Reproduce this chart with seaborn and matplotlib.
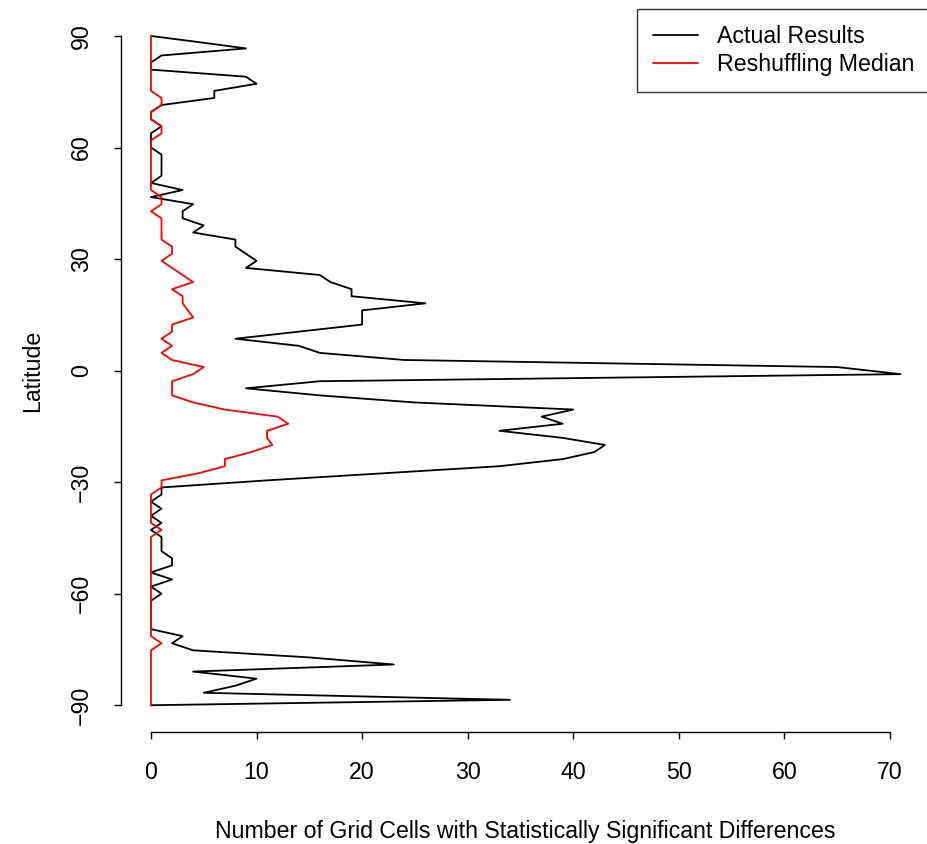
import numpy as np
import pandas as pd
import matplotlib
matplotlib.use("Agg")
import matplotlib.pyplot as plt
import seaborn as sns

sns.set_style("ticks")
plt.rcParams["font.family"] = ["Liberation Sans", "DejaVu Sans"]
plt.rcParams["text.color"] = "black"
plt.rcParams["axes.labelcolor"] = "black"

# T62 Gaussian latitudes (northern half), mirrored for the south, plus the poles
north_lats = [88.542, 86.653, 84.753, 82.851, 80.947, 79.043, 77.139, 75.235, 73.331, 71.426,
              69.522, 67.617, 65.713, 63.808, 61.903, 59.999, 58.094, 56.189, 54.285, 52.380,
              50.475, 48.571, 46.666, 44.761, 42.856, 40.952, 39.047, 37.142, 35.238, 33.333,
              31.428, 29.523, 27.619, 25.714, 23.809, 21.904, 20.000, 18.095, 16.190, 14.286,
              12.381, 10.476, 8.571, 6.667, 4.762, 2.857, 0.952]
lats = [90.0] + north_lats + [-v for v in reversed(north_lats)] + [-90.0]

actual = [0,
          4, 9, 1, 0, 0, 9, 10, 6, 6, 1,
          0, 0, 1, 0, 0, 0, 1, 1, 1, 1,
          0, 3, 0, 4, 3, 3, 5, 4, 8, 8,
          9, 10, 9, 16, 17, 19, 19, 26, 20, 20,
          20, 14, 8, 14, 16, 24, 65, 71, 16, 9,
          16, 25, 40, 37, 39, 33, 39, 43, 42, 39,
          33, 22, 11, 1, 1, 0, 1, 0, 1, 0,
          1, 1, 1, 2, 2, 0, 2, 0, 1, 0,
          0, 0, 0, 0, 3, 2, 4, 15, 23, 4,
          10, 8, 5, 34,
          0]

median = [0,
          0, 0, 0, 0, 0, 0, 0, 0, 1, 1,
          0, 0, 1, 1, 0, 0, 0, 0, 0, 0,
          0, 0, 1, 1, 0, 1, 1, 1, 1, 2,
          2, 1, 2, 3, 4, 2, 3, 3, 3.5, 4,
          2, 2, 1, 2, 1, 2, 5, 4, 2, 2,
          2, 4, 7, 12, 13, 11, 11, 11.5, 9.5, 7,
          7, 4.5, 1, 1, 0, 0, 0, 0, 0, 1,
          0, 0, 0, 0, 0, 0, 0, 0, 0, 0,
          0, 0, 0, 0, 0, 1, 0, 0, 0, 0,
          0, 0, 0, 0,
          0]

x_ticks = [0, 10, 20, 30, 40, 50, 60, 70]
y_ticks = [-90, -60, -30, 0, 30, 60, 90]

df = pd.DataFrame({"lat": lats, "actual": actual, "median": median})

FS = 16.7

fig = plt.figure(figsize=(9.27, 8.44), dpi=100)
ax = fig.add_axes([0.1305, 0.1327, 0.8733, 0.8564])

sns.lineplot(data=df, x="actual", y="lat", sort=False, estimator=None,
             color="black", lw=1.3, label="Actual Results", ax=ax)
sns.lineplot(data=df, x="median", y="lat", sort=False, estimator=None,
             color="#FF0000", lw=1.3, label="Reshuffling Median", ax=ax)

ax.set_xlim(-2.84, 73.84)
ax.set_ylim(-97.2, 97.2)
ax.set_xticks(x_ticks)
ax.set_xticklabels([str(v) for v in x_ticks])
ax.set_yticks(y_ticks)
ax.set_yticklabels([str(v).replace("-", "\u2212") for v in y_ticks], rotation=90, va="center")

for side in ["top", "right"]:
    ax.spines[side].set_visible(False)
ax.spines["left"].set_bounds(-90, 90)
ax.spines["bottom"].set_bounds(0, 70)
for side in ["left", "bottom"]:
    ax.spines[side].set_linewidth(1.0)
    ax.spines[side].set_color("black")

ax.tick_params(axis="both", direction="out", length=5, width=1.0, colors="black",
               labelsize=FS)
ax.tick_params(axis="x", pad=16)
ax.tick_params(axis="y", pad=15)

ax.set_xlabel("Number of Grid Cells with Statistically Significant Differences",
              fontsize=FS, labelpad=26, color="black")
ax.set_ylabel("Latitude", fontsize=FS, labelpad=19, color="black")

leg = ax.legend(loc="upper right", borderaxespad=0, fontsize=FS, frameon=True,
                fancybox=False, edgecolor="black", handlelength=1.95,
                handletextpad=0.8, borderpad=0.7, labelspacing=0.2)
leg.get_frame().set_linewidth(1.0)
for t in leg.get_texts():
    t.set_color("black")

fig.savefig("out.png", dpi=100)
